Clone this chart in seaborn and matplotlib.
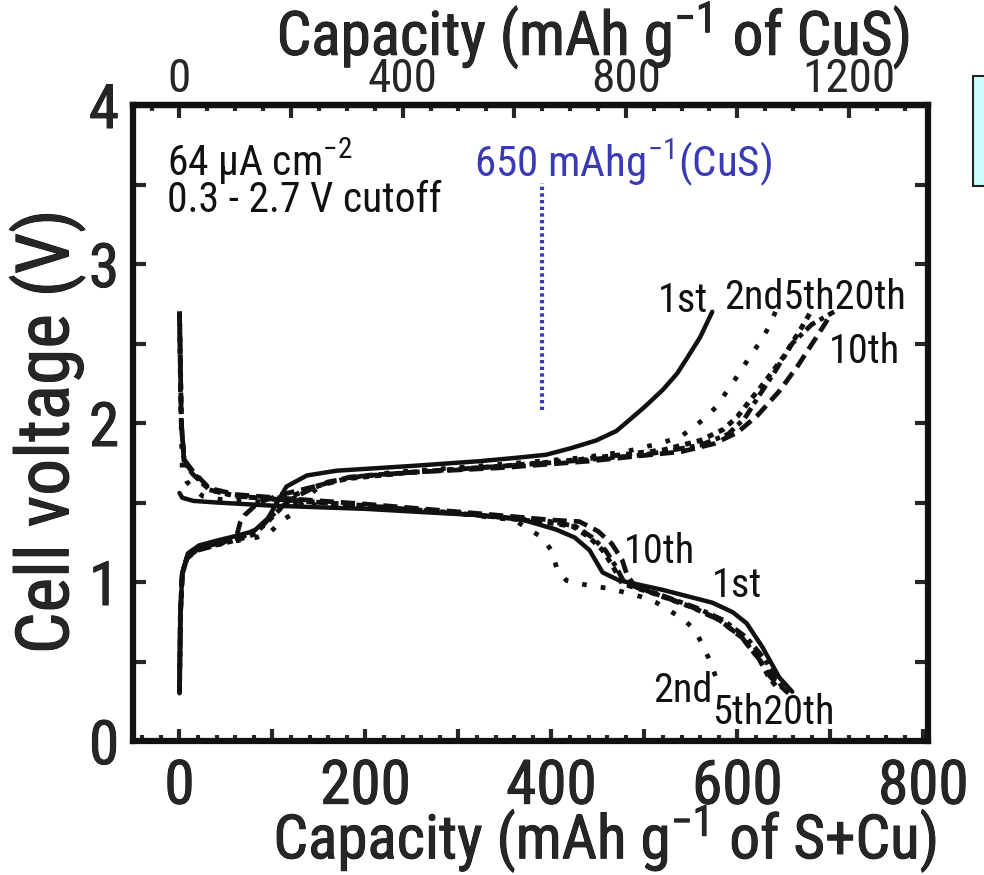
import numpy as np
import pandas as pd
import matplotlib
matplotlib.use("Agg")
import matplotlib.pyplot as plt
from matplotlib import font_manager as fm
from matplotlib import patheffects as pe
from matplotlib.ticker import MultipleLocator, FuncFormatter
from matplotlib.patches import Rectangle
import seaborn as sns

# ---------------- data ----------------
cycles = ["1st", "2nd", "5th", "10th", "20th"]

# charge branches (capacity in mAh/g of S+Cu, voltage in V)
chg_1st_cap = [0, 1, 3, 9, 21, 40, 61, 80, 95, 105, 115, 137, 169, 250, 323, 360, 394, 420, 448, 470, 484, 500, 520, 535, 545, 560, 573]
chg_1st_v = [0.30, 0.80, 1.06, 1.18, 1.23, 1.26, 1.29, 1.32, 1.40, 1.50, 1.60, 1.67, 1.70, 1.73, 1.76, 1.78, 1.80, 1.84, 1.89, 1.95, 2.02, 2.10, 2.21, 2.31, 2.40, 2.54, 2.70]

chg_2nd_cap = [0, 1, 3, 8, 18, 40, 62, 83, 97, 111, 122, 135, 150, 175, 230, 323, 430, 480, 515, 538, 552, 565, 577, 597, 616, 627, 635, 641]
chg_2nd_v = [0.30, 0.80, 1.05, 1.15, 1.20, 1.24, 1.26, 1.28, 1.31, 1.39, 1.43, 1.52, 1.60, 1.65, 1.69, 1.73, 1.78, 1.82, 1.87, 1.91, 1.97, 2.03, 2.10, 2.27, 2.44, 2.53, 2.62, 2.70]

chg_5th_cap = [0, 1, 3, 8, 20, 45, 65, 80, 95, 110, 125, 145, 180, 250, 350, 430, 520, 560, 585, 600, 612, 631, 650, 669, 678]
chg_5th_v = [0.30, 0.80, 1.05, 1.15, 1.21, 1.24, 1.27, 1.30, 1.38, 1.47, 1.55, 1.60, 1.65, 1.69, 1.73, 1.77, 1.83, 1.89, 1.96, 2.04, 2.13, 2.27, 2.42, 2.60, 2.69]

chg_10th_cap = [0, 1, 3, 8, 20, 45, 62, 65, 70, 85, 110, 145, 183, 250, 350, 440, 540, 575, 600, 622, 645, 665, 685, 697]
chg_10th_v = [0.30, 0.80, 1.05, 1.15, 1.20, 1.24, 1.30, 1.37, 1.42, 1.50, 1.55, 1.60, 1.66, 1.69, 1.72, 1.76, 1.82, 1.87, 1.94, 2.05, 2.20, 2.36, 2.54, 2.65]

chg_20th_cap = [0, 1, 3, 8, 20, 45, 70, 90, 105, 120, 140, 160, 200, 300, 400, 500, 560, 590, 608, 622, 640, 659, 680, 704]
chg_20th_v = [0.30, 0.80, 1.05, 1.15, 1.21, 1.25, 1.29, 1.36, 1.45, 1.52, 1.58, 1.63, 1.67, 1.71, 1.75, 1.80, 1.86, 1.93, 2.03, 2.16, 2.32, 2.50, 2.62, 2.70]

# discharge branches
dis_1st_cap = [0, 3, 15, 40, 100, 150, 200, 260, 323, 370, 405, 425, 441, 455, 473, 520, 573, 595, 610, 627, 645, 659]
dis_1st_v = [1.56, 1.53, 1.51, 1.50, 1.48, 1.47, 1.46, 1.44, 1.42, 1.39, 1.33, 1.28, 1.20, 1.06, 1.01, 0.95, 0.87, 0.81, 0.74, 0.59, 0.40, 0.31]

dis_2nd_cap = [0, 1, 3, 8, 14, 25, 43, 100, 200, 300, 360, 390, 401, 406, 416, 430, 448, 462, 495, 513, 527, 541, 554, 563, 570, 577, 581]
dis_2nd_v = [2.70, 2.20, 1.70, 1.63, 1.59, 1.54, 1.52, 1.50, 1.47, 1.43, 1.39, 1.28, 1.19, 1.08, 1.01, 0.99, 0.97, 0.96, 0.91, 0.87, 0.82, 0.77, 0.70, 0.60, 0.51, 0.40, 0.33]

dis_5th_cap = [0, 2, 5, 14, 32, 61, 104, 200, 323, 400, 423, 441, 455, 466, 476, 509, 552, 581, 605, 624, 634, 645]
dis_5th_v = [2.70, 2.00, 1.76, 1.69, 1.58, 1.54, 1.52, 1.48, 1.42, 1.37, 1.35, 1.28, 1.20, 1.10, 0.99, 0.93, 0.84, 0.76, 0.65, 0.51, 0.40, 0.32]

dis_10th_cap = [0, 2, 5, 14, 32, 61, 104, 200, 323, 400, 430, 450, 465, 476, 481, 490, 510, 552, 581, 605, 624, 636, 655]
dis_10th_v = [2.70, 2.00, 1.77, 1.70, 1.59, 1.55, 1.53, 1.49, 1.43, 1.39, 1.38, 1.32, 1.24, 1.14, 1.05, 0.97, 0.93, 0.84, 0.76, 0.65, 0.51, 0.40, 0.30]

dis_20th_cap = [0, 2, 5, 14, 32, 61, 104, 200, 323, 400, 426, 444, 458, 469, 479, 512, 555, 585, 610, 630, 641, 652]
dis_20th_v = [2.70, 2.00, 1.75, 1.68, 1.58, 1.54, 1.52, 1.48, 1.42, 1.38, 1.35, 1.28, 1.20, 1.10, 0.99, 0.93, 0.84, 0.76, 0.65, 0.51, 0.40, 0.31]

marker_cap = 390          # 650 mAh/g of CuS expressed per g of S+Cu
marker_v = [2.08, 3.51]

# ---------------- fonts ----------------
sns.set_style("ticks")
names = {f.name for f in fm.fontManager.ttflist}
family = "DejaVu Sans"
stretch = "normal"
for cand in ["Liberation Sans Narrow", "Arial Narrow", "Roboto Condensed", "Open Sans Condensed"]:
    if cand in names:
        family = cand
        break
else:
    if any(f.name == "DejaVu Sans" and f.stretch == "condensed" for f in fm.fontManager.ttflist):
        stretch = "condensed"
narrow = family != "DejaVu Sans" or stretch == "condensed"
plt.rcParams["font.family"] = [family, "DejaVu Sans"]
plt.rcParams["font.stretch"] = stretch
plt.rcParams["font.weight"] = "normal"
plt.rcParams["mathtext.fontset"] = "custom"
plt.rcParams["mathtext.rm"] = family
plt.rcParams["mathtext.it"] = family
k = 1.0 if narrow else 0.78

# slightly heavier ("medium") look for tick labels and axis titles
heavy = [pe.withStroke(linewidth=0.7, foreground="#111111")]

# ---------------- figure ----------------
fig = plt.figure(figsize=(9.84, 8.75), dpi=100)
ax = fig.add_axes([133 / 984, 1 - 741 / 875, 795 / 984, 636 / 875])

styles = {
    "1st": dict(linestyle="-", linewidth=3.2),
    "2nd": dict(linestyle=(0, (1, 3)), linewidth=3.4),
    "5th": dict(linestyle=(0, (1.2, 1.2)), linewidth=3.6),
    "10th": dict(linestyle=(0, (3, 1.5)), linewidth=3.4),
    "20th": dict(linestyle=(0, (2.5, 1.1, 1, 1.1)), linewidth=3.4),
}
curves = [
    ("1st", chg_1st_cap, chg_1st_v), ("2nd", chg_2nd_cap, chg_2nd_v),
    ("5th", chg_5th_cap, chg_5th_v), ("10th", chg_10th_cap, chg_10th_v),
    ("20th", chg_20th_cap, chg_20th_v),
    ("1st", dis_1st_cap, dis_1st_v), ("2nd", dis_2nd_cap, dis_2nd_v),
    ("5th", dis_5th_cap, dis_5th_v), ("10th", dis_10th_cap, dis_10th_v),
    ("20th", dis_20th_cap, dis_20th_v),
]
for cyc, cap, v in curves:
    df = pd.DataFrame({"cap": cap, "V": v})
    sns.lineplot(data=df, x="cap", y="V", sort=False, estimator=None, ax=ax,
                 color="#111111", solid_capstyle="round", dash_capstyle="butt",
                 **styles[cyc])

# 650 mAh/g marker
dfm = pd.DataFrame({"cap": [marker_cap, marker_cap], "V": marker_v})
sns.lineplot(data=dfm, x="cap", y="V", sort=False, estimator=None, ax=ax,
             color="#3a3ab4", linestyle=(0, (0.8, 0.8)), linewidth=3.0)

ax.set_xlim(-50, 805)
ax.set_ylim(0, 4)

# ticks
ax.xaxis.set_major_locator(MultipleLocator(100))
ax.xaxis.set_minor_locator(MultipleLocator(20))
ax.xaxis.set_major_formatter(FuncFormatter(lambda x, p: f"{x:.0f}" if abs(x % 200) < 1e-6 else ""))
ax.yaxis.set_major_locator(MultipleLocator(0.5))
ax.yaxis.set_major_formatter(FuncFormatter(lambda y, p: f"{y:.0f}" if abs(y % 1) < 1e-6 else ""))
ax.tick_params(axis="x", which="major", direction="in", length=9, width=3,
               labelsize=44 * k, pad=12, top=False)
ax.tick_params(axis="x", which="minor", direction="in", length=4.5, width=3, top=False)
ax.tick_params(axis="y", which="major", direction="in", length=9.5, width=3,
               labelsize=44 * k, pad=10, right=True)
for s in ax.spines.values():
    s.set_linewidth(4.5)
    s.set_color("#111111")

secax = ax.secondary_xaxis("top", functions=(lambda x: x * 5 / 3, lambda x: x * 0.6))
secax.xaxis.set_major_locator(MultipleLocator(200))
secax.xaxis.set_minor_locator(MultipleLocator(50))
secax.xaxis.set_major_formatter(FuncFormatter(lambda x, p: f"{x:.0f}" if abs(x % 400) < 1e-6 else ""))
secax.tick_params(which="major", direction="in", length=9, width=3, labelsize=34 * k, pad=3)
secax.tick_params(which="minor", direction="in", length=4.5, width=3)
secax.spines["top"].set_linewidth(4.5)

ax.set_xlabel("Capacity (mAh g$^{-1}$ of S+Cu)", fontsize=44 * k)
ax.xaxis.set_label_coords(0.594, -0.100)
ax.set_ylabel("Cell voltage (V)", fontsize=53 * k)
ax.yaxis.set_label_coords(-0.060, 0.486)
secax.set_xlabel("Capacity (mAh g$^{-1}$ of CuS)", fontsize=44 * k)
secax.xaxis.set_label_coords(0.579, 1.078, transform=ax.transAxes)

for t in ax.get_xticklabels() + ax.get_yticklabels():
    t.set_path_effects(heavy)
for lab in (ax.xaxis.label, ax.yaxis.label, secax.xaxis.label):
    lab.set_path_effects(heavy)

# annotations
tfs = 30 * k
ax.text(-13, 3.64, "64 μA cm$^{-2}$", fontsize=tfs, ha="left", va="center", color="#111111")
ax.text(-13, 3.40, "0.3 - 2.7 V cutoff", fontsize=tfs, ha="left", va="center", color="#111111")
ax.text(477, 3.64, "650 mAhg$^{-1}$(CuS)", fontsize=31 * k, ha="center", va="center",
        color="#3a3ab4")

lfs = 29 * k
lab_kw = dict(fontsize=lfs, ha="center", va="center", color="#111111")
ax.text(541, 2.77, "1st", **lab_kw)
ax.text(684, 2.79, "2nd5th20th", **lab_kw)
ax.text(737, 2.45, "10th", **lab_kw)
ax.text(516, 1.19, "10th", **lab_kw)
ax.text(600, 0.98, "1st", **lab_kw)
ax.text(541, 0.32, "2nd", **lab_kw)
ax.text(639, 0.18, "5th20th", **lab_kw)

# partially visible light-cyan box at the right edge
fig.patches.append(Rectangle((973 / 984, 1 - 186 / 875), 0.05, 110 / 875,
                             transform=fig.transFigure, facecolor="#ccffff",
                             edgecolor="#222222", linewidth=1.5))

fig.savefig("out.png", dpi=100)
